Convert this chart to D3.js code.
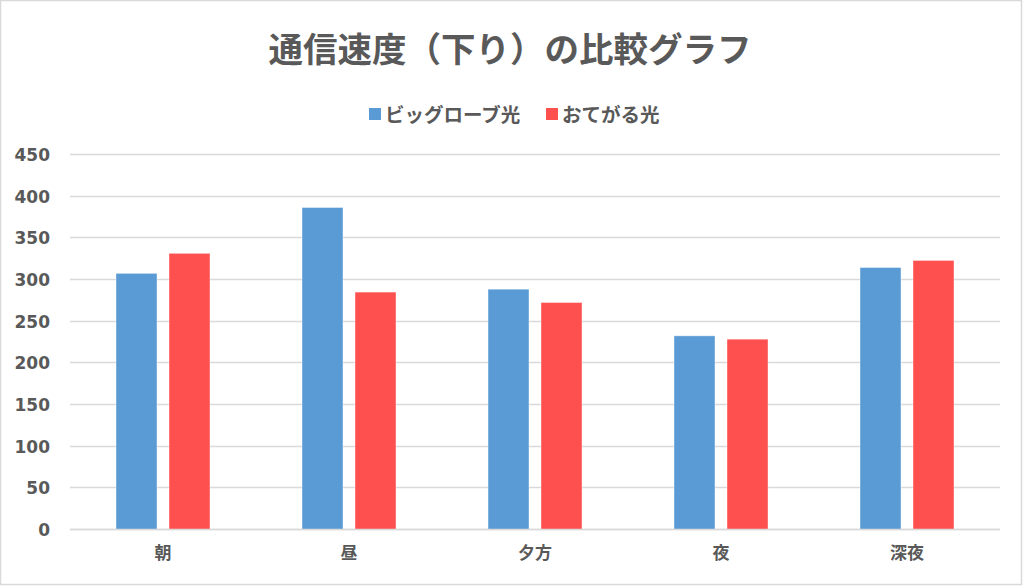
<!DOCTYPE html>
<html>
<head>
<meta charset="utf-8">
<script src="https://cdn.jsdelivr.net/npm/d3@7"></script>
<style>
  body { margin: 0; background: #fff; }
  svg { display: block; }
</style>
</head>
<body>
<svg id="chart"></svg>
<script>
// data
const categories = ["朝", "昼", "夕方", "夜", "深夜"]
const seriesNames = ["ビッグローブ光", "おてがる光"]
const biglobe = [308, 387, 289, 233, 315]
const otegaru = [332, 285.5, 273, 229, 323.5]
const yTicks = [0, 50, 100, 150, 200, 250, 300, 350, 400, 450]

const colors = ["#5B9BD5", "#FF5050"]
const textColor = "#595959"
const gridColor = "#D9D9D9"

const w = 1024
const h = 587
const plotLeft = 70
const plotRight = 1000
const plotTop = 155
const plotBottom = 530

const svg = d3.select("#chart")
    .attr("width", w)
    .attr("height", h)

// chart frame
svg.append("rect")
    .attr("x", 0.5)
    .attr("y", 0.5)
    .attr("width", w - 3)
    .attr("height", h - 3)
    .attr("fill", "#fff")
    .attr("stroke", gridColor)
    .attr("stroke-width", 1.5)

// title
svg.append("text")
    .attr("x", 510)
    .attr("y", 62)
    .attr("text-anchor", "middle")
    .attr("font-family", "'Noto Sans CJK JP', sans-serif")
    .attr("font-weight", "bold")
    .attr("font-size", 34.5)
    .attr("fill", textColor)
    .text("通信速度（下り）の比較グラフ")

// scales
const x0 = d3.scaleBand()
    .domain(categories)
    .range([plotLeft, plotRight])
    .paddingInner(92 / 186)
    .paddingOuter(46 / 186)

const x1 = d3.scaleBand()
    .domain(seriesNames)
    .range([0, x0.bandwidth()])
    .paddingInner(0.2264)

const yScale = d3.scaleLinear()
    .domain([0, 450])
    .range([plotBottom, plotTop])

// gridlines
svg.append("g")
    .selectAll("line")
    .data(yTicks)
    .enter()
    .append("line")
    .attr("x1", plotLeft)
    .attr("x2", plotRight)
    .attr("y1", d => Math.round(yScale(d)) - 0.5)
    .attr("y2", d => Math.round(yScale(d)) - 0.5)
    .attr("stroke", gridColor)
    .attr("stroke-width", 1.4)

// y axis labels (no axis line)
const axisLeft = d3.axisLeft(yScale)
    .tickValues(yTicks)
    .tickSize(0)
    .tickPadding(0)

const yAxis = svg.append("g")
    .attr("transform", `translate(50, 0)`)
    .call(axisLeft)
yAxis.select(".domain").remove()
yAxis.selectAll("text")
    .attr("font-family", "'DejaVu Sans', sans-serif")
    .attr("font-weight", "bold")
    .attr("font-size", 17)
    .attr("fill", textColor)

// bars
const rows = categories.map((c, i) => ({ cat: c, values: [biglobe[i], otegaru[i]] }))

const groups = svg.append("g")
    .selectAll("g")
    .data(rows)
    .enter()
    .append("g")
    .attr("transform", d => `translate(${x0(d.cat)}, 0)`)

groups.selectAll("rect")
    .data(d => d.values.map((v, j) => ({ name: seriesNames[j], value: v, j: j })))
    .enter()
    .append("rect")
    .attr("x", d => x1(d.name))
    .attr("y", d => yScale(d.value))
    .attr("width", x1.bandwidth())
    .attr("height", d => plotBottom - yScale(d.value))
    .attr("fill", d => colors[d.j])
    .attr("stroke", "#fff")
    .attr("stroke-opacity", 0.5)
    .attr("stroke-width", 0.8)

// x axis line
svg.append("line")
    .attr("x1", plotLeft)
    .attr("x2", plotRight)
    .attr("y1", plotBottom - 0.5)
    .attr("y2", plotBottom - 0.5)
    .attr("stroke", gridColor)
    .attr("stroke-width", 1.4)

// x axis labels
const axisBottom = d3.axisBottom(x0)
    .tickSize(0)
    .tickPadding(0)

const xAxis = svg.append("g")
    .attr("transform", `translate(0, 547)`)
    .call(axisBottom)
xAxis.select(".domain").remove()
xAxis.selectAll("text")
    .attr("font-family", "'Noto Sans CJK JP', sans-serif")
    .attr("font-weight", "bold")
    .attr("font-size", 17)
    .attr("fill", textColor)

// legend
const legendItems = [
    { name: seriesNames[0], x: 369, color: colors[0] },
    { name: seriesNames[1], x: 546, color: colors[1] }
]

const legend = svg.append("g")

legend.selectAll("rect")
    .data(legendItems)
    .enter()
    .append("rect")
    .attr("x", d => d.x)
    .attr("y", 108)
    .attr("width", 12)
    .attr("height", 12)
    .attr("fill", d => d.color)

legend.selectAll("text")
    .data(legendItems)
    .enter()
    .append("text")
    .attr("x", d => d.x + 16)
    .attr("y", 121.5)
    .attr("font-family", "'Noto Sans CJK JP', sans-serif")
    .attr("font-weight", "bold")
    .attr("font-size", 19.5)
    .attr("fill", textColor)
    .text(d => d.name)
</script>
</body>
</html>
